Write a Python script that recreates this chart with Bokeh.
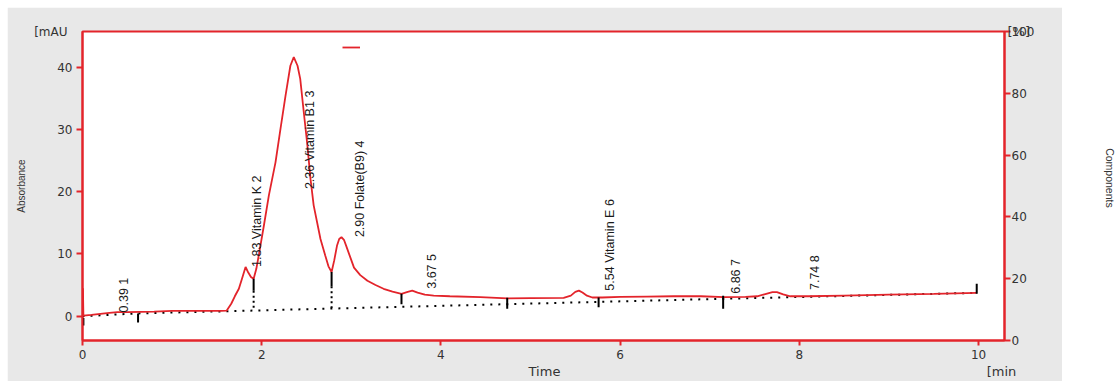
from math import pi
from bokeh.plotting import figure
from bokeh.models import (Range1d, LinearAxis, Label, Legend, LegendItem,
                          ColumnDataSource, FixedTicker)
from bokeh.layouts import row
from bokeh.core.properties import value
from bokeh.embed import file_html
from bokeh.resources import INLINE

# ---------------- data ----------------
time = [0.0, 0.005, 0.01, 0.1, 0.3, 0.39, 0.5, 0.8, 1.0, 1.3, 1.55, 1.61, 1.66, 1.70,
        1.745, 1.78, 1.82, 1.85, 1.88, 1.91, 1.94, 1.97, 2.025, 2.08, 2.154, 2.21,
        2.266, 2.32, 2.358, 2.40, 2.43, 2.47, 2.51, 2.545, 2.58, 2.656, 2.71, 2.745,
        2.78, 2.81, 2.84, 2.865, 2.89, 2.92, 2.95, 3.00, 3.03, 3.10, 3.18, 3.27, 3.36,
        3.46, 3.56, 3.62, 3.68, 3.74, 3.82, 3.92, 4.1, 4.44, 4.74, 5.0, 5.37, 5.45,
        5.50, 5.54, 5.58, 5.63, 5.69, 5.8, 6.0, 6.3, 6.6, 6.9, 7.16, 7.4, 7.53, 7.62,
        7.70, 7.75, 7.82, 7.90, 8.1, 8.5, 9.0, 9.5, 9.98]
absorbance = [0.1, 4.5, 0.1, 0.2, 0.55, 0.65, 0.65, 0.75, 0.85, 0.85, 0.85, 0.9, 2.0, 3.2,
              4.4, 6.0, 7.9, 7.0, 6.3, 6.0, 7.6, 10.0, 14.6, 19.4, 24.7, 30.1,
              35.4, 40.2, 41.6, 40.2, 38.1, 32.7, 27.4, 22.0, 17.8, 12.4, 9.7, 8.0,
              7.1, 9.0, 11.3, 12.4, 12.7, 12.2, 11.0, 9.0, 7.8, 6.6, 5.7, 5.0, 4.4,
              3.95, 3.6, 3.85, 4.1, 3.8, 3.45, 3.3, 3.2, 3.05, 2.85, 2.9, 2.95, 3.3,
              3.9, 4.1, 3.8, 3.3, 3.0, 3.0, 3.1, 3.15, 3.2, 3.2, 3.05, 3.1, 3.2, 3.55,
              3.85, 3.85, 3.5, 3.2, 3.2, 3.3, 3.45, 3.6, 3.75]

baseline_t = [0.0, 0.62, 1.61, 4.74, 7.16, 9.98]
baseline_y = [0.0, 0.45, 0.8, 1.93, 2.8, 3.75]

marker_t = [0.01, 0.62, 1.91, 2.78, 3.56, 4.74, 5.76, 7.15, 9.98]
marker_top = [-0.3, 0.45, 6.0, 7.1, 3.6, 2.95, 3.0, 3.3, 5.2]
marker_bottom = [-1.5, -1.0, 4.1, 4.8, 1.9, 1.2, 1.45, 1.2, 3.6]

drop_t = [1.91, 2.78]
drop_top = [4.1, 4.8]
drop_bottom = [1.0, 1.3]

peak_labels = ["0.39   1", "1.83 Vitamin K  2", "2.36 Vitamin B1  3",
               "2.90 Folate(B9)  4", "3.67  5", "5.54 Vitamin E  6",
               "6.86  7", "7.74  8"]
label_t = [0.46, 1.95, 2.54, 3.10, 3.90, 5.89, 7.29, 8.18]
label_y = [0.6, 7.9, 20.4, 12.7, 4.4, 4.1, 3.6, 4.2]

x_ticks = [0, 2, 4, 6, 8, 10]
y_ticks = [0, 10, 20, 30, 40]
pct_ticks = [0, 20, 40, 60, 80, 100]

# axis titles / units shown as single tick labels of helper axes
time_title_at = {5.156: "Time", 10.257: "[min"}
mau_title_at = {45.7: "[mAU"}
pct_title_at = {100: "[%]"}

RED = "#e3242b"
GRAY_BG = "#e8e8e8"
TXT = "#333333"

# ---------------- figure ----------------
p = figure(width=1055, height=374, output_backend="svg", toolbar_location=None,
           x_range=Range1d(0, 10.29), y_range=Range1d(-3.9, 45.7),
           min_border_left=75, min_border_right=58, min_border_top=24,
           min_border_bottom=41)
p.margin = (7, 0, 0, 7)
p.background_fill_color = "white"
p.border_fill_color = GRAY_BG
p.outline_line_color = RED
p.outline_line_width = 2
p.grid.visible = False
p.extra_y_ranges = {"pct": Range1d(0, 100)}

right_axis = LinearAxis(y_range_name="pct")
p.add_layout(right_axis, "right")

p.xaxis.ticker = FixedTicker(ticks=x_ticks)
p.yaxis[0].ticker = FixedTicker(ticks=y_ticks)
right_axis.ticker = FixedTicker(ticks=pct_ticks)

for ax in [p.xaxis[0], p.yaxis[0], right_axis]:
    ax.axis_line_color = RED
    ax.axis_line_width = 2
    ax.major_tick_line_color = RED
    ax.major_tick_line_width = 2
    ax.minor_tick_line_color = None
    ax.major_tick_in = 0
    ax.major_tick_out = 6
    ax.major_label_text_font = "DejaVu Sans"
    ax.major_label_text_font_size = "12px"
    ax.major_label_text_color = TXT
p.xaxis[0].major_tick_out = 5
p.xaxis[0].major_label_standoff = 4
p.yaxis[0].major_label_standoff = 4
right_axis.major_label_standoff = 1


def helper_axis(ticks, overrides, standoff, size, **kw):
    ax = LinearAxis(ticker=FixedTicker(ticks=ticks), **kw)
    ax.major_label_overrides = overrides
    ax.axis_line_color = None
    ax.major_tick_line_color = None
    ax.minor_tick_line_color = None
    ax.major_tick_in = 0
    ax.major_tick_out = 0
    ax.major_label_standoff = standoff
    ax.major_label_text_font = "DejaVu Sans"
    ax.major_label_text_font_size = size
    ax.major_label_text_color = TXT
    ax.axis_label_text_font_style = "normal"
    ax.axis_label_text_color = TXT
    return ax


left2 = helper_axis(list(mau_title_at), mau_title_at, -13, "12px")
left2.axis_label = "Absorbance"
left2.axis_label_text_font = "Liberation Sans"
left2.axis_label_text_font_size = "10px"
left2.axis_label_standoff = 4
p.add_layout(left2, "left")

right2 = helper_axis(list(pct_title_at), pct_title_at, -30, "13px", y_range_name="pct")
p.add_layout(right2, "right")

below2 = helper_axis(list(time_title_at), time_title_at, 2, "13px")
p.add_layout(below2, "below")

# baseline (dotted)
p.line(baseline_t, baseline_y, line_color="black", line_width=2, line_dash="2 6")
# dotted drop lines
p.segment(x0=drop_t, y0=drop_top, x1=drop_t, y1=drop_bottom, line_color="black",
          line_width=2, line_dash="2 3")
# chromatogram
trace = p.line(time, absorbance, line_color=RED, line_width=1.8)
# integration markers
p.segment(x0=marker_t, y0=marker_top, x1=marker_t, y1=marker_bottom,
          line_color="black", line_width=2)

# peak labels
src = ColumnDataSource(dict(x=label_t, y=label_y, text=peak_labels))
p.text(x="x", y="y", text="text", source=src, angle=pi / 2,
       text_align="left", text_baseline="middle",
       text_font=value("Liberation Sans"), text_font_size="12.5px",
       text_color="#1a1a1a")

# legend (empty label, short red line)
legend = Legend(items=[LegendItem(label=" ", renderers=[trace])],
                location=(260, 288), padding=0, margin=0, glyph_width=18,
                glyph_height=10, label_height=10, label_width=0,
                label_text_font_size="1px", background_fill_alpha=0,
                border_line_alpha=0)
p.add_layout(legend)

# right white strip with "Components"
p2 = figure(width=57, height=381, output_backend="svg", toolbar_location=None,
            x_range=Range1d(0, 57), y_range=Range1d(0, 381),
            min_border=0, min_border_left=0, min_border_right=0,
            min_border_top=0, min_border_bottom=0)
p2.axis.visible = False
p2.grid.visible = False
p2.outline_line_color = None
p2.background_fill_color = "white"
p2.border_fill_color = "white"
p2.add_layout(Label(x=47, y=196, text="Components", text_font="Liberation Sans",
                    text_font_size="10.5px", text_color=TXT, angle=-pi / 2,
                    text_align="center", text_baseline="middle"))

layout = row(p, p2)
open("out.html", "w").write(file_html(layout, INLINE))
